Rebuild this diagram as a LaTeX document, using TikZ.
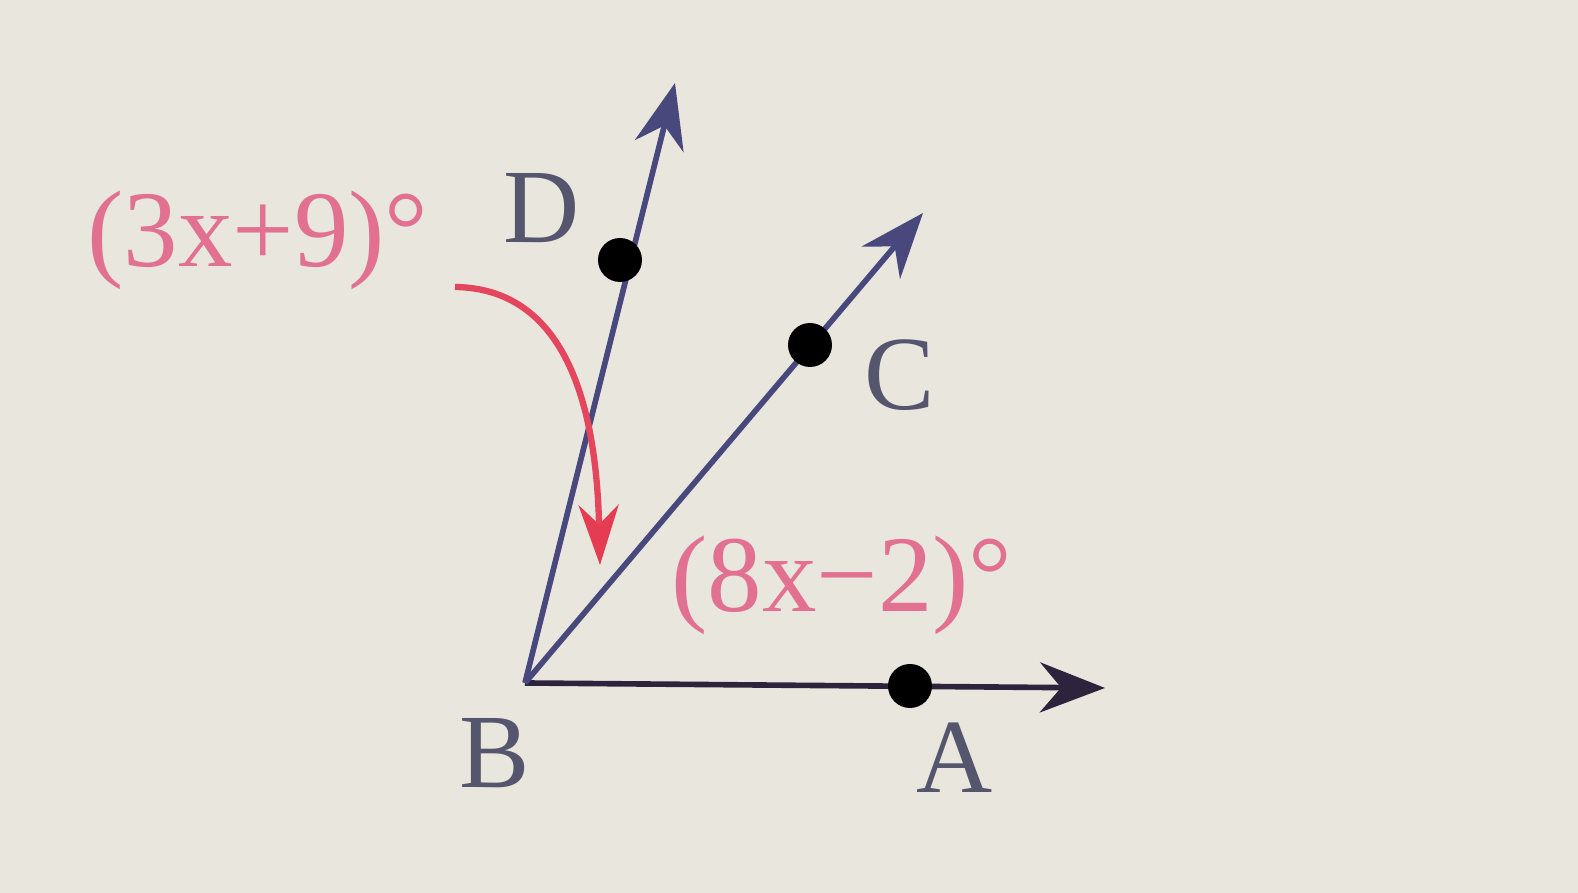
\documentclass[tikz,border=0pt]{standalone}
\usepackage{fontspec}
\setmainfont{Liberation Serif}
\usetikzlibrary{arrows.meta}
\definecolor{paper}{RGB}{233,230,222}
\definecolor{rayblue}{RGB}{72,72,125}
\definecolor{raydark}{RGB}{45,35,60}
\definecolor{angpink}{RGB}{226,112,145}
\definecolor{angred}{RGB}{228,60,80}
\definecolor{lettergray}{RGB}{85,85,110}
\begin{document}
\begin{tikzpicture}[x=1cm,y=1cm,
    ray/.style={draw=rayblue, line width=1.6pt, -{Stealth[length=6.5mm,width=5mm]}},
    pt/.style={circle, fill=black, inner sep=0pt, minimum size=4.4mm},
    lbl/.style={text=lettergray, font=\fontsize{30}{36}\selectfont},
    ang/.style={text=angpink, font=\fontsize{31}{36}\selectfont}]
    \fill[paper] (0,0) rectangle (15.78,8.93);
    \useasboundingbox (0,0) rectangle (15.78,8.93);

    \coordinate (B) at (5.25,2.10);
    \coordinate (Atip) at (11.05,2.05);
    \coordinate (Ctip) at (9.23,6.80);
    \coordinate (Dtip) at (6.75,8.10);

    \draw[ray, draw=raydark] (B) -- (Atip);
    \draw[ray] (B) -- (Ctip);
    \draw[ray] (B) -- (Dtip);

    \node[pt] (A) at (9.10,2.07) {};
    \node[pt] (C) at (8.10,5.48) {};
    \node[pt] (D) at (6.20,6.33) {};

    \node[lbl] (labD) at (5.42,6.85) {D};
    \node[lbl] (labC) at (9.00,5.18) {C};
    \node[lbl] (labB) at (4.95,1.40) {B};
    \node[lbl] (labA) at (9.55,1.35) {A};

    \node[ang] (angDC) at (2.58,6.53) {(3x+9)°};
    \node[ang] (angCA) at (8.42,3.08) {(8x−2)°};

    \coordinate (arcstart) at (4.55,6.06);
    \coordinate (arcend) at (6.00,3.28);
    \draw[angred!80!angpink, line width=1.8pt, -{Stealth[length=6mm,width=4mm,color=angred]}]
        (arcstart) .. controls (5.3,6.05) and (5.95,5.5) .. (arcend);
\end{tikzpicture}
\end{document}
